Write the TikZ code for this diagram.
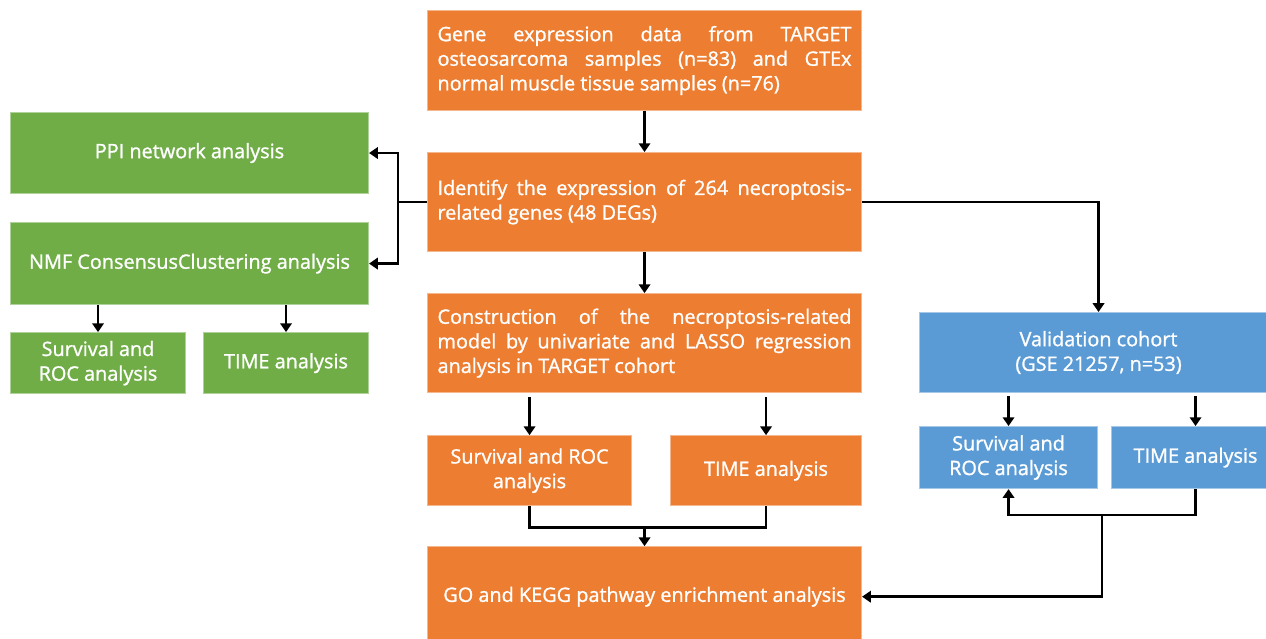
\documentclass[tikz,border=0pt]{standalone}
\usepackage{fontspec}
\setmainfont{Open Sans}
\newfontfamily\boxfont[RawFeature={embolden=1.2}]{Open Sans}
\usetikzlibrary{shapes, arrows.meta, positioning, calc}

\definecolor{boxorange}{HTML}{ED7D31}
\definecolor{boxgreen}{HTML}{70AD47}
\definecolor{boxblue}{HTML}{5B9BD5}
\hyphenpenalty=10000

\begin{document}
\begin{tikzpicture}[node distance=0.82cm and 1.18cm,
    box/.style={rectangle, draw=#1!55!white, fill=#1, text=white, inner sep=0pt, line width=0.6pt, align=center, font=\boxfont\fontsize{11.3}{14}\selectfont},
    wide/.style={box=boxorange, minimum width=8.68cm, minimum height=1.98cm, text width=8.28cm, align=justify},
    arrow/.style={line width=1.5pt, -{Triangle[length=5pt, width=6.5pt]}},
    link/.style={line width=1.5pt}]

    \useasboundingbox (0,0) rectangle (25.32,-12.76);

    % central column
    \node [wide, minimum height=2cm, anchor=north west] (data) at (8.54,-0.2) {Gene expression data from TARGET\linebreak osteosarcoma samples (n=83) and GTEx\linebreak normal muscle tissue samples (n=76)};
    \node [wide, below=of data] (identify) {Identify the expression of 264 necroptosis-\linebreak related genes (48 DEGs)};
    \node [wide, below=of identify] (model) {Construction of the necroptosis-related\linebreak model by univariate and LASSO regression\linebreak analysis in TARGET cohort};
    \node [box=boxorange, minimum width=4.08cm, minimum height=1.4cm, below=0.84cm of model.south west, anchor=north west] (msurv) {Survival and ROC\\analysis};
    \node [box=boxorange, minimum width=3.82cm, minimum height=1.4cm, below=0.84cm of model.south east, anchor=north east] (mtime) {TIME analysis};
    \node [box=boxorange, minimum width=8.68cm, minimum height=2cm, below=3.06cm of model] (enrich) {GO and KEGG pathway enrichment analysis};

    % left column
    \node [box=boxgreen, minimum width=7.16cm, minimum height=1.62cm, anchor=north west] (ppi) at (0.2,-2.24) {PPI network analysis};
    \node [box=boxgreen, minimum width=7.16cm, minimum height=1.64cm, below=0.56cm of ppi] (nmf) {NMF ConsensusClustering analysis};
    \node [box=boxgreen, minimum width=3.5cm, minimum height=1.22cm, below=0.54cm of nmf.south west, anchor=north west] (csurv) {Survival and\\ROC analysis};
    \node [box=boxgreen, minimum width=3.3cm, minimum height=1.22cm, below=0.54cm of nmf.south east, anchor=north east] (ctime) {TIME analysis};

    % right column
    \node [box=boxblue, minimum width=7.16cm, minimum height=1.6cm, anchor=north west] (valid) at (18.38,-6.24) {Validation cohort\\(GSE 21257, n=53)};
    \node [box=boxblue, minimum width=3.56cm, minimum height=1.24cm, below=0.66cm of valid.south west, anchor=north west] (vsurv) {Survival and\\ROC analysis};
    \node [box=boxblue, minimum width=3.36cm, minimum height=1.24cm, below=0.66cm of valid.south west, anchor=north west, xshift=3.84cm] (vtime) {TIME analysis};

    \coordinate (lsplit) at ($(identify.west)+(-0.58,0)$);
    \coordinate (mjoin) at ([yshift=-0.42cm]enrich.north |- msurv.south);
    \coordinate (vjoin) at ($(vsurv.south)!0.5!(vtime.south)+(0,-0.52)$);

    \draw [arrow] (data) -- (identify);
    \draw [arrow] (identify) -- (model);
    \draw [link] (identify.west) -- (lsplit);
    \draw [arrow] (lsplit) |- (ppi.east);
    \draw [arrow] (lsplit) |- (nmf.east);
    \draw [arrow] (identify.east) -| (valid.north);
    \draw [arrow] (nmf.south -| csurv) -- (csurv);
    \draw [arrow] (nmf.south -| ctime) -- (ctime);
    \draw [arrow] ([yshift=-0.08cm]model.south -| msurv) -- (msurv);
    \draw [arrow] ([yshift=-0.08cm]model.south -| mtime) -- (mtime);
    \draw [link] (msurv.south) |- (mjoin) -| (mtime.south);
    \draw [arrow] (mjoin) -- (enrich);
    \draw [arrow] ([yshift=-0.06cm]valid.south -| vsurv) -- (vsurv);
    \draw [arrow] ([yshift=-0.06cm]valid.south -| vtime) -- (vtime);
    \draw [arrow] (vtime.south) |- (vjoin) -| (vsurv.south);
    \draw [arrow] (vjoin) |- (enrich.east);
\end{tikzpicture}
\end{document}
